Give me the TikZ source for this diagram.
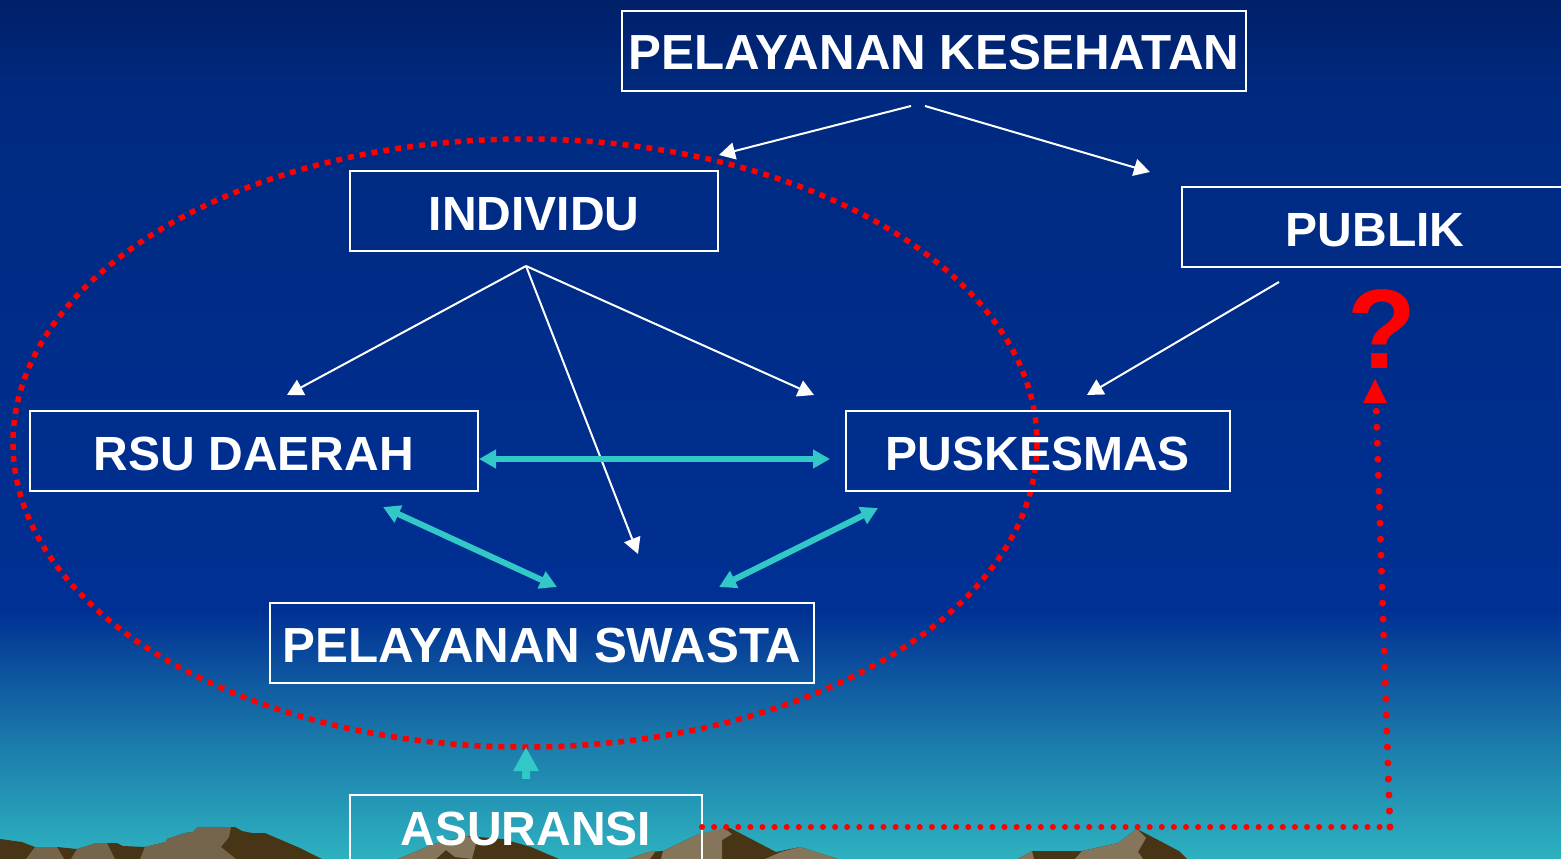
\documentclass[tikz,border=0pt]{standalone}
\usepackage{fontspec}
\setmainfont{Liberation Sans}
\usetikzlibrary{arrows.meta}
\definecolor{skytop}{RGB}{0,32,105}
\definecolor{skyhigh}{RGB}{0,42,128}
\definecolor{skylow}{RGB}{0,48,148}
\definecolor{skyfade}{RGB}{27,122,170}
\definecolor{skybot}{RGB}{45,178,192}
\definecolor{rockdark}{RGB}{71,53,21}
\definecolor{rocklight}{RGB}{133,117,90}
\definecolor{rockleft}{RGB}{117,101,76}
\definecolor{tealline}{RGB}{50,200,200}
\pgfdeclareverticalshading{skyshade}{100bp}{
  color(0bp)=(skybot); color(25bp)=(skybot); color(31.9bp)=(skyfade);
  color(39.5bp)=(skylow); color(69.2bp)=(skyhigh); color(75bp)=(skytop); color(100bp)=(skytop)}
\tikzset{
  box/.style={draw=white, line width=2pt, text=white, inner sep=0pt, text height=38pt, text depth=0pt, font=\fontsize{48}{48}\selectfont\bfseries},
  boxwide/.style={box, font=\fontsize{49.3}{49.3}\selectfont\bfseries},
  thinarrow/.style={draw=white, line width=2pt, -{Triangle[length=16pt,width=17pt,fill=white]}},
  tealarrow/.style={draw=tealline, line width=6pt, {Triangle[length=17pt,width=18pt]}-{Triangle[length=17pt,width=18pt]}},
  rock/.style={fill=rockdark, draw=none},
  rocklit/.style={fill=rocklight, draw=none},
  rockfar/.style={fill=rockleft, draw=none}
}
\begin{document}
\begin{tikzpicture}[x=1pt,y=-1pt]
  \useasboundingbox (0,0) rectangle (1561,859);
  \begin{scope}
    \clip (0,0) rectangle (1561,859);
    \shade[shading=skyshade] (0,0) rectangle (1561,859);

    %% ========================================================
    % mountains along the bottom edge
    \fill[rock] (0,839) -- (22,842) -- (35,847) -- (57,847) -- (77,849) -- (97,843) -- (117,843) -- (123,846) -- (145,847) -- (166,842) -- (167,839) -- (185,833) -- (193,832) -- (198,827) -- (235,827) -- (242,831) -- (252,833) -- (265,833) -- (300,848) -- (322,859) -- (0,859) -- cycle;
    \fill[rockfar] (26,859) -- (35,847) -- (57,847) -- (64,859) -- cycle;
    \fill[rockfar] (71,859) -- (77,849) -- (97,843) -- (107,843) -- (115,859) -- cycle;
    \fill[rockfar] (140,859) -- (145,847) -- (166,842) -- (167,839) -- (185,833) -- (193,832) -- (198,827) -- (231,827) -- (229,837) -- (221,847) -- (236,859) -- cycle;

    \fill[rock] (398,859) -- (434,844) -- (467,836) -- (503,839) -- (531,847) -- (559,859) -- cycle;
    \fill[rocklit] (398,859) -- (434,844) -- (467,836) -- (477,840) -- (472,859) -- (455,857) -- (446,850) -- (436,859) -- cycle;

    \fill[rock] (628,859) -- (648,852) -- (663,851) -- (699,834) -- (730,828) -- (776,852) -- (800,847) -- (838,859) -- cycle;
    \fill[rocklit] (661,859) -- (663,851) -- (699,834) -- (724,828) -- (732,834) -- (722,840) -- (722,859) -- cycle;
    \fill[rocklit] (765,859) -- (781,852) -- (800,847) -- (838,859) -- cycle;
    \fill[rocklit] (628,859) -- (648,852) -- (655,852) -- (650,859) -- cycle;

    \fill[rock] (1018,859) -- (1032,851) -- (1082,851) -- (1118,843) -- (1137,829) -- (1179,851) -- (1187,859) -- cycle;
    \fill[rocklit] (1018,859) -- (1032,851) -- (1034,859) -- cycle;
    \fill[rocklit] (1075,859) -- (1082,851) -- (1118,843) -- (1137,829) -- (1146,838) -- (1138,852) -- (1143,859) -- cycle;
    %% ========================================================

    % the dotted oval around the four boxes
    \draw[red, line width=5.5pt, dash pattern=on 6pt off 6pt] (525,443) ellipse [x radius=512, y radius=304];

    \node[boxwide, minimum width=624pt, minimum height=80pt] (kesehatan) at (934,51) {PELAYANAN KESEHATAN};
    \node[box, minimum width=368pt, minimum height=80pt] (individu) at (534,211) {INDIVIDU};
    \node[box, minimum width=386pt, minimum height=80pt] (publik) at (1375,227) {PUBLIK};
    \node[box, minimum width=448pt, minimum height=80pt] (rsu) at (254,451) {RSU DAERAH};
    \node[box, minimum width=384pt, minimum height=80pt] (puskesmas) at (1038,451) {PUSKESMAS};
    \node[boxwide, minimum width=544pt, minimum height=80pt] (swasta) at (542,643) {PELAYANAN SWASTA};
    \node[box, text height=35pt, minimum width=352pt, minimum height=66pt] (asuransi) at (526,828) {ASURANSI};

    \node[text=red, inner sep=0pt, font=\fontsize{113}{113}\selectfont\bfseries] (tanya) at (1382,329) {?};

    % free ends of the arrows
    \coordinate (kesL) at (911,106);
    \coordinate (kesR) at (925,106);
    \coordinate (indL) at (719,155);
    \coordinate (pubT) at (1150,172);
    \coordinate (indB) at (526,266);
    \coordinate (rsuT) at (287,395);
    \coordinate (swaT) at (638,554);
    \coordinate (pusT) at (814,395);
    \coordinate (pubB) at (1279,282);
    \coordinate (pusR) at (1087,395);

    \draw[thinarrow] (kesL) -- (indL);
    \draw[thinarrow] (kesR) -- (pubT);
    \draw[thinarrow] (indB) -- (rsuT);
    \draw[thinarrow] (indB) -- (pusT);
    \draw[thinarrow] (indB) -- (swaT);
    \draw[thinarrow] (pubB) -- (pusR);

    \coordinate (rsuE) at (479,459);
    \coordinate (pusW) at (830,459);
    \coordinate (rsuS) at (383,507);
    \coordinate (swaL) at (557,587);
    \coordinate (pusS) at (878,508);
    \coordinate (swaR) at (719,587);
    \draw[tealarrow] (rsuE) -- (pusW);
    \draw[tealarrow] (rsuS) -- (swaL);
    \draw[tealarrow] (pusS) -- (swaR);

    \coordinate (asuT) at (526,779);
    \coordinate (ovalB) at (526,747);
    \draw[draw=tealline, line width=8pt, -{Triangle[length=24pt,width=24pt]}] (asuT) -- (ovalB);

    % dotted line from the last box up to the question mark
    \coordinate (asuE) at (702,827);
    \coordinate (siku) at (1390,827);
    \coordinate (tanyaB) at (1375,379);
    \draw[red, line width=6pt, line cap=round, dash pattern=on 0pt off 12.1pt] (asuE) -- (siku);
    \draw[red, line width=7pt, line cap=round, dash pattern=on 0pt off 16pt] (siku) -- (1376,403);
    \fill[red] (tanyaB) -- (1387,403) -- (1363,403) -- cycle;
  \end{scope}
\end{tikzpicture}
\end{document}
